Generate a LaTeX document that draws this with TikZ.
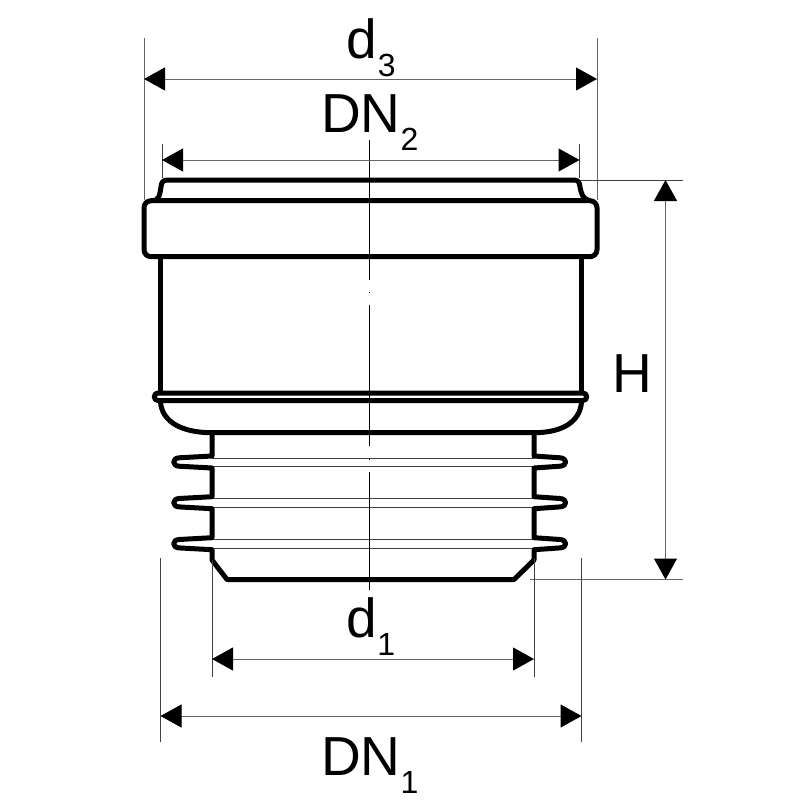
\documentclass[tikz,border=0pt]{standalone}
\usepackage{fontspec}
\setmainfont{Liberation Sans}
\usetikzlibrary{arrows.meta}

\newcommand{\dimtext}[2]{#1\raisebox{-18pt}{\fontsize{32}{32}\selectfont #2}}

\begin{document}
\begin{tikzpicture}[x=1pt,y=-1pt,
		pipe/.style={line width=5pt,line join=round},
		thin line/.style={line width=1pt,black!75},
		ext line/.style={line width=1pt,black!60},
		axis line/.style={line width=1pt,black},
		dim line/.style={line width=1pt,black!60,{Triangle[length=21pt,width=23pt,black]}-{Triangle[length=21pt,width=23pt,black]}},
		dim label/.style={anchor=base west,inner sep=0pt,font=\fontsize{55}{57}\selectfont}]

		\useasboundingbox (0,0) rectangle (800,800);

		% extension line ends
		\coordinate (d3 top l) at (144,38);
		\coordinate (d3 bot l) at (144,200);
		\coordinate (d3 top r) at (597,38);
		\coordinate (d3 bot r) at (597,200);
		\coordinate (dn2 top l) at (162,144);
		\coordinate (dn2 bot l) at (162,178);
		\coordinate (dn2 top r) at (579.5,144);
		\coordinate (dn2 bot r) at (579.5,178);
		\coordinate (h top l) at (580,180);
		\coordinate (h top r) at (682.5,180);
		\coordinate (h bot l) at (530,579.5);
		\coordinate (h bot r) at (682.5,579.5);
		\coordinate (d1 top l) at (212,560);
		\coordinate (d1 bot l) at (212,677);
		\coordinate (d1 top r) at (534,558);
		\coordinate (d1 bot r) at (534,677);
		\coordinate (dn1 top l) at (160.5,558);
		\coordinate (dn1 bot l) at (160.5,742);
		\coordinate (dn1 top r) at (581.5,558);
		\coordinate (dn1 bot r) at (581.5,742);

		% arrow ends
		\coordinate (d3 l) at (144,79);
		\coordinate (d3 r) at (597,79);
		\coordinate (dn2 l) at (162,160);
		\coordinate (dn2 r) at (579.5,160);
		\coordinate (h t) at (665.5,180);
		\coordinate (h b) at (665.5,579.5);
		\coordinate (d1 l) at (212,659);
		\coordinate (d1 r) at (534,659);
		\coordinate (dn1 l) at (160.5,716);
		\coordinate (dn1 r) at (581.5,716);

		% thin lines of the ribs
		\foreach \ya/\yb in {458/466.7,498/507.3,539/548} {
			\draw[thin line] (212,\ya) -- (534,\ya);
			\draw[thin line] (212,\yb) -- (534,\yb);
		}

		% axis
		\draw[axis line] (369.7,140) -- (369.7,280);
		\draw[axis line] (369.7,291.5) -- (369.7,293);
		\draw[axis line] (369.7,305) -- (369.7,446);
		\draw[axis line] (369.7,458.5) -- (369.7,460);
		\draw[axis line] (369.7,472) -- (369.7,590);

		% fitting
		\draw[pipe] (156,199.5) .. controls (160,198) and (160,192) .. (161,187) .. controls (161.5,182) and (163,180) .. (168,180) -- (574,180) .. controls (578,180) and (579.5,182) .. (580,187) .. controls (581,193) and (583,199) .. (588,200);
		\draw[pipe,rounded corners=7pt] (144,200.7) rectangle (597,256.7);
		\draw[pipe] (160.7,257) -- (160.7,393);
		\draw[pipe] (581.7,257) -- (581.7,393);
		\draw[pipe] (158,393) -- (583,393) arc[start angle=-90,end angle=90,radius=3.75] -- (158,400.5) arc[start angle=90,end angle=270,radius=3.75] -- cycle;
		\draw[pipe] (160.5,402) .. controls (162,422) and (182,432.7) .. (212,432.7) -- (534,432.7) .. controls (562,432.7) and (580,422) .. (581.5,402);

		% neck with ribs
		\draw[pipe] (212,432.7)
			foreach \y in {462,502.7,543.7} {
				-- (212,{\y-6}) -- (179,{\y-4.2}) .. controls (172,{\y-3.8}) and (172,{\y+3.8}) .. (179,{\y+4.2}) -- (212,{\y+6})
			}
			-- (212,560) -- (227,579.5) -- (514,579.5) -- (534,560)
			foreach \y in {543.7,502.7,462} {
				-- (534,{\y+6}) -- (560,{\y+4.2}) .. controls (567.5,{\y+3.8}) and (567.5,{\y-3.8}) .. (560,{\y-4.2}) -- (534,{\y-6})
			}
			-- (534,432.7);

		% dimensions
		\draw[ext line] (d3 top l) -- (d3 bot l);
		\draw[ext line] (d3 top r) -- (d3 bot r);
		\draw[thin line] (dn2 top l) -- (dn2 bot l);
		\draw[thin line] (dn2 top r) -- (dn2 bot r);
		\draw[thin line] (h top l) -- (h top r);
		\draw[ext line] (h bot l) -- (h bot r);
		\draw[thin line] (d1 top l) -- (d1 bot l);
		\draw[thin line] (d1 top r) -- (d1 bot r);
		\draw[thin line] (dn1 top l) -- (dn1 bot l);
		\draw[thin line] (dn1 top r) -- (dn1 bot r);

		\draw[dim line] (d3 l) -- (d3 r);
		\draw[dim line] (dn2 l) -- (dn2 r);
		\draw[dim line] (h t) -- (h b);
		\draw[dim line] (d1 l) -- (d1 r);
		\draw[dim line] (dn1 l) -- (dn1 r);

		\node[dim label] (d3) at (346,59) {\dimtext{d\kern1pt}{3}};
		\node[dim label] (dn2) at (321,132) {\dimtext{DN}{2}};
		\node[dim label] (h) at (612.5,392) {H};
		\node[dim label] (d1) at (346.5,637) {\dimtext{d}{1}};
		\node[dim label] (dn1) at (321,775) {\dimtext{DN}{1}};
	\end{tikzpicture}
\end{document}
